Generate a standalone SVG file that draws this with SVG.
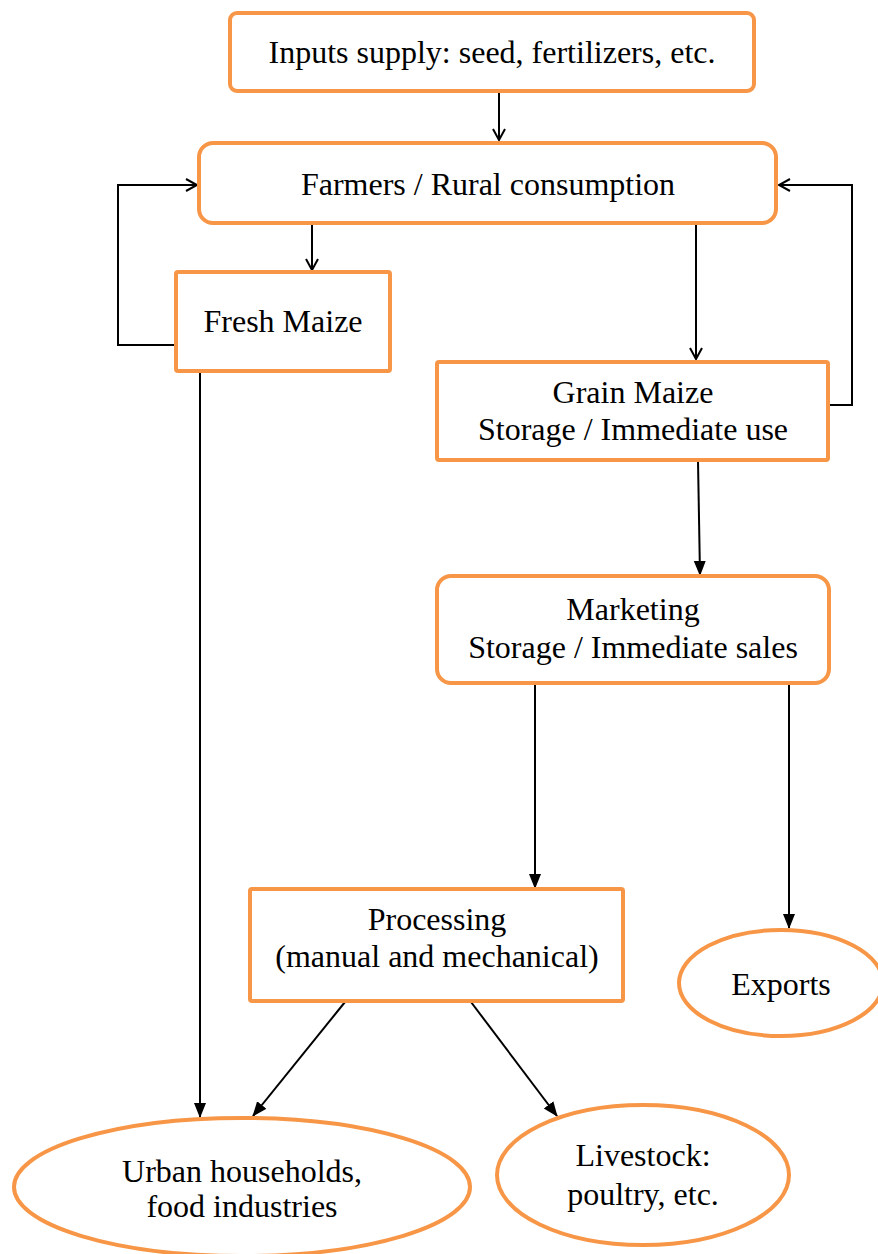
<svg xmlns="http://www.w3.org/2000/svg" width="878" height="1254" viewBox="0 0 878 1254">
<defs>
<style>
.box{fill:#fff;stroke:#F79646;stroke-width:4}
.t{font-family:"Liberation Serif","Times New Roman",serif;font-size:32px;fill:#000;text-anchor:middle}
.c{fill:none;stroke:#000;stroke-width:2}
</style>
<marker id="open" markerWidth="14" markerHeight="14" refX="12" refY="7" orient="auto" markerUnits="userSpaceOnUse">
<path d="M1,1 L12,7 L1,13" fill="none" stroke="#000" stroke-width="2"/>
</marker>
<marker id="fill" markerWidth="16" markerHeight="16" refX="14" refY="8" orient="auto" markerUnits="userSpaceOnUse">
<path d="M0,2 L15,8 L0,14 Z" fill="#000"/>
</marker>
</defs>
<rect width="878" height="1254" fill="#fff"/>
<g id="connectors">
<line class="c" x1="499" y1="91" x2="499" y2="140" marker-end="url(#open)"/>
<line class="c" x1="312" y1="225" x2="312" y2="270" marker-end="url(#open)"/>
<polyline class="c" points="176,345 118,345 118,185 197,185" marker-end="url(#open)"/>
<line class="c" x1="696" y1="225" x2="696" y2="359" marker-end="url(#open)"/>
<polyline class="c" points="829,405 852,405 852,185 779,185" marker-end="url(#open)"/>
<line class="c" x1="698" y1="461" x2="700" y2="575" marker-end="url(#fill)"/>
<line class="c" x1="535" y1="683" x2="535" y2="888" marker-end="url(#fill)"/>
<line class="c" x1="789" y1="683" x2="789" y2="928" marker-end="url(#fill)"/>
<line class="c" x1="200" y1="371" x2="200" y2="1117" marker-end="url(#fill)"/>
<line class="c" x1="345" y1="1002" x2="253" y2="1116" marker-end="url(#fill)"/>
<line class="c" x1="471" y1="1002" x2="557" y2="1116" marker-end="url(#fill)"/>
</g>
<g id="inputs">
<rect class="box" x="230" y="13" width="524" height="78" rx="7"/>
<text class="t" x="492" y="63">Inputs supply: seed, fertilizers, etc.</text>
</g>
<g id="farmers">
<rect class="box" x="199" y="143" width="577" height="80" rx="14"/>
<text class="t" x="488" y="195">Farmers / Rural consumption</text>
</g>
<g id="fresh">
<rect class="box" x="176" y="272" width="214" height="99" rx="2"/>
<text class="t" x="283" y="332">Fresh Maize</text>
</g>
<g id="grain">
<rect class="box" x="437" y="362" width="391" height="98" rx="2"/>
<text class="t" x="633" y="403">Grain Maize</text>
<text class="t" x="633" y="440">Storage / Immediate use</text>
</g>
<g id="marketing">
<rect class="box" x="437" y="576" width="392" height="107" rx="14"/>
<text class="t" x="633" y="620">Marketing</text>
<text class="t" x="633" y="658">Storage / Immediate sales</text>
</g>
<g id="processing">
<rect class="box" x="250" y="889" width="373" height="112" rx="2"/>
<text class="t" x="437" y="930">Processing</text>
<text class="t" x="437" y="967">(manual and mechanical)</text>
</g>
<g id="exports">
<ellipse class="box" cx="781" cy="983" rx="102" ry="53"/>
<text class="t" x="781" y="995">Exports</text>
</g>
<g id="urban">
<ellipse class="box" cx="242" cy="1187" rx="228" ry="69"/>
<text class="t" x="242" y="1182">Urban households,</text>
<text class="t" x="242" y="1217">food industries</text>
</g>
<g id="livestock">
<ellipse class="box" cx="643" cy="1175" rx="146" ry="70"/>
<text class="t" x="643" y="1166">Livestock:</text>
<text class="t" x="643" y="1205">poultry, etc.</text>
</g>
</svg>
